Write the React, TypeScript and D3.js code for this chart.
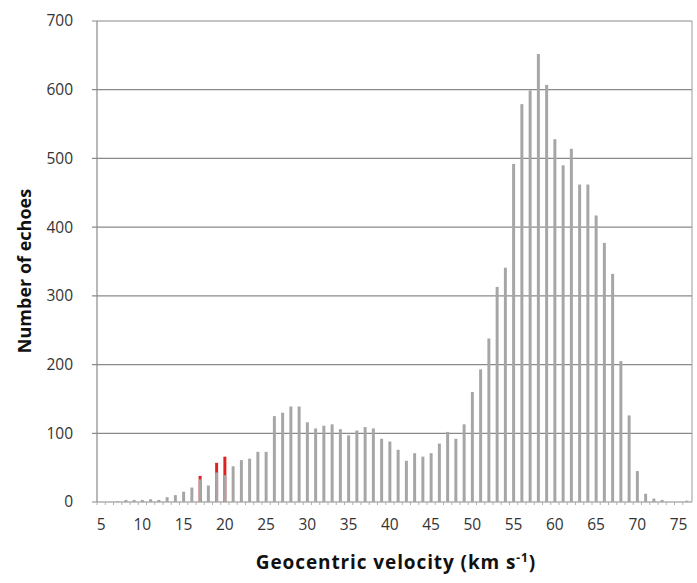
import React from "react";
import * as d3 from "d3";

const velocities: number[] = d3.range(5, 77);
const echoCounts: number[] = [
  0, 0, 1, 3, 3, 3, 4, 3, 7, 10, 15, 21, 33, 24, 43, 39, 52, 61, 63, 73,
  73, 125, 130, 139, 139, 116, 107, 111, 113, 106, 97, 104, 109, 107, 92, 88,
  76, 60, 71, 66, 71, 85, 102, 92, 113, 160, 193, 238, 313, 341, 492, 579,
  599, 652, 607, 528, 490, 514, 462, 462, 417, 377, 332, 205, 126, 45, 12, 5,
  3, 0, 0, 2,
];
const showerCounts: { v: number; n: number }[] = [
  { v: 17, n: 38 },
  { v: 19, n: 57 },
  { v: 20, n: 66 },
];
const yTicks: number[] = [0, 100, 200, 300, 400, 500, 600, 700];
const xTickLabels: number[] = d3.range(5, 76, 5);

const W = 697;
const H = 583;
const left = 97;
const right = 691;
const top = 21;
const bottom = 502;

export default function App() {
  const x = d3
    .scaleBand<number>()
    .domain(velocities)
    .range([left, right])
    .paddingInner(0.64)
    .paddingOuter(0.32);
  const y = d3.scaleLinear().domain([0, 700]).range([bottom, top]);
  const step = x.step();
  const font = "'Open Sans', Lato, sans-serif";

  return (
    <svg
      width={W}
      height={H}
      style={{ position: "absolute", left: 0, top: 0, background: "#fff" }}
    >
      {yTicks.map((t) => (
        <g key={t}>
          <line
            x1={left - 5}
            x2={right + 1}
            y1={y(t)}
            y2={y(t)}
            stroke="#8a8a8a"
            strokeWidth={1.2}
          />
          <text
            x={73}
            y={y(t)}
            dy="0.35em"
            textAnchor="end"
            fontFamily={font}
            fontSize={15.5}
            fill="#333"
          >
            {t}
          </text>
        </g>
      ))}
      <line x1={left} x2={left} y1={top} y2={bottom} stroke="#8a8a8a" strokeWidth={1.2} />
      <line x1={right + 1} x2={right + 1} y1={top} y2={bottom} stroke="#9a9a9a" strokeWidth={1} />
      {velocities.map((v) => (
        <line
          key={"t" + v}
          x1={(x(v) as number) - (step - x.bandwidth()) / 2}
          x2={(x(v) as number) - (step - x.bandwidth()) / 2}
          y1={bottom}
          y2={bottom + 3}
          stroke="#b0b0b0"
          strokeWidth={1}
        />
      ))}
      {showerCounts.map((d) => (
        <rect
          key={"r" + d.v}
          x={x(d.v)}
          y={y(d.n)}
          width={x.bandwidth()}
          height={bottom - y(d.n)}
          fill="#dd2222"
        />
      ))}
      {velocities.map((v, i) => (
        <rect
          key={"b" + v}
          x={x(v)}
          y={y(echoCounts[i])}
          width={x.bandwidth()}
          height={bottom - y(echoCounts[i])}
          fill="#a6a6a6"
        />
      ))}
      {xTickLabels.map((v) => (
        <text
          key={"x" + v}
          x={(x(v) as number) + x.bandwidth() / 2}
          y={530}
          textAnchor="middle"
          fontFamily={font}
          fontSize={15.5}
          fill="#333"
        >
          {v}
        </text>
      ))}
      <text
        x={396}
        y={569}
        textAnchor="middle"
        fontFamily={font}
        fontSize={19}
        fontWeight="bold"
        fill="#111"
        letterSpacing={0.9}
      >
        Geocentric velocity (km s
        <tspan dy={-7} fontSize={12}>
          -1
        </tspan>
        <tspan dy={7}>)</tspan>
      </text>
      <text
        transform={`translate(31, 271) rotate(-90)`}
        textAnchor="middle"
        fontFamily={font}
        fontSize={18}
        fontWeight="bold"
        fill="#111"
      >
        Number of echoes
      </text>
    </svg>
  );
}
